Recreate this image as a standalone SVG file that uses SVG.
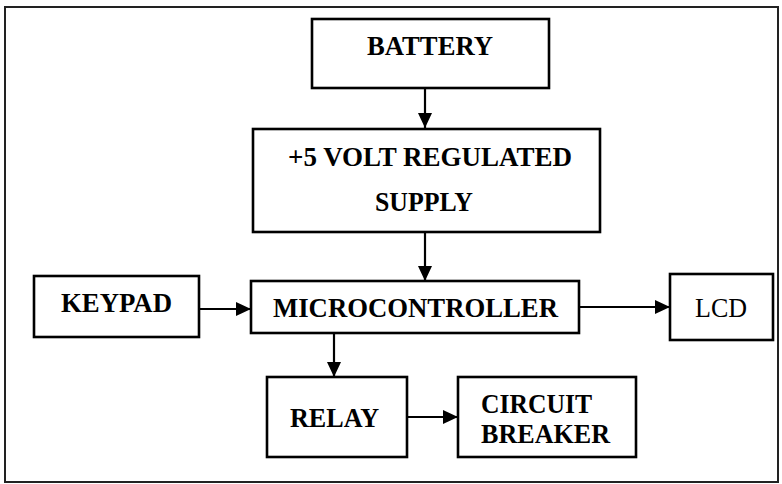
<svg xmlns="http://www.w3.org/2000/svg" width="782" height="484" viewBox="0 0 782 484">
<style>
.box{fill:#fff;stroke:#000;stroke-width:2.6}
.t{font-family:"Liberation Serif","Times New Roman",serif;font-size:28px;font-weight:bold;fill:#000}
.r{font-weight:normal}
.c{stroke:#000;stroke-width:2.2;fill:none}
</style>
<defs>
<marker id="ah" markerUnits="userSpaceOnUse" markerWidth="15" markerHeight="14" refX="15" refY="7" orient="auto">
<path d="M0,0 L15,7 L0,14 z" fill="#000"/>
</marker>
</defs>
<rect x="5" y="7" width="773" height="475" fill="#fff" stroke="#222" stroke-width="2"/>
<g id="connectors">
<line class="c" x1="425" y1="88" x2="425" y2="128" marker-end="url(#ah)"/>
<line class="c" x1="425" y1="232" x2="425" y2="281" marker-end="url(#ah)"/>
<line class="c" x1="199" y1="309" x2="251" y2="309" marker-end="url(#ah)"/>
<line class="c" x1="579" y1="307" x2="670" y2="307" marker-end="url(#ah)"/>
<line class="c" x1="334" y1="333" x2="334" y2="377" marker-end="url(#ah)"/>
<line class="c" x1="407" y1="417" x2="458" y2="417" marker-end="url(#ah)"/>
</g>
<g id="battery">
<rect class="box" x="312" y="19" width="237" height="69"/>
<text class="t" x="367" y="55" textLength="126" lengthAdjust="spacingAndGlyphs">BATTERY</text>
</g>
<g id="supply">
<rect class="box" x="253" y="129" width="347" height="103"/>
<text class="t" x="288" y="166" textLength="284" lengthAdjust="spacingAndGlyphs">+5 VOLT REGULATED</text>
<text class="t" x="375" y="211" textLength="98" lengthAdjust="spacingAndGlyphs">SUPPLY</text>
</g>
<g id="keypad">
<rect class="box" x="34" y="276" width="165" height="61"/>
<text class="t" x="61" y="312" textLength="111" lengthAdjust="spacingAndGlyphs">KEYPAD</text>
</g>
<g id="microcontroller">
<rect class="box" x="251" y="281" width="328" height="52"/>
<text class="t" x="273" y="317" textLength="285" lengthAdjust="spacingAndGlyphs">MICROCONTROLLER</text>
</g>
<g id="lcd">
<rect class="box" x="670" y="274" width="103" height="66"/>
<text class="t r" x="695" y="317" textLength="52" lengthAdjust="spacingAndGlyphs">LCD</text>
</g>
<g id="relay">
<rect class="box" x="267" y="377" width="140" height="80"/>
<text class="t" x="290" y="427" textLength="89" lengthAdjust="spacingAndGlyphs">RELAY</text>
</g>
<g id="breaker">
<rect class="box" x="458" y="377" width="178" height="80"/>
<text class="t" x="481" y="413" textLength="111" lengthAdjust="spacingAndGlyphs">CIRCUIT</text>
<text class="t" x="481" y="443" textLength="129" lengthAdjust="spacingAndGlyphs">BREAKER</text>
</g>
</svg>
